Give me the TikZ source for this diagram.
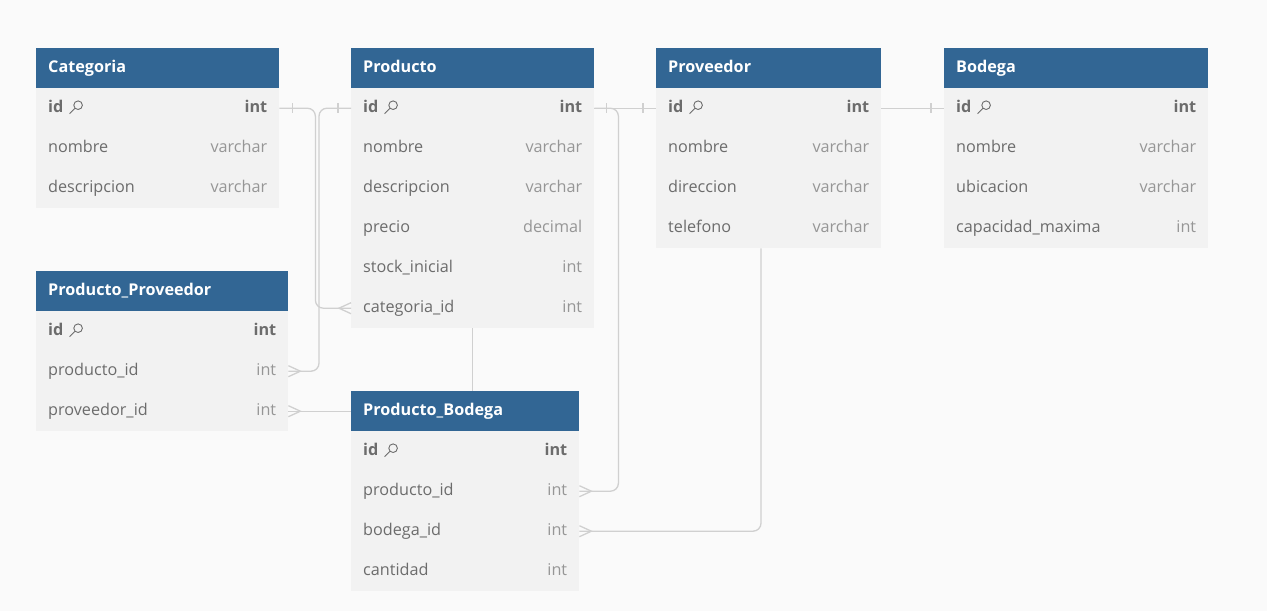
\documentclass[tikz,border=0pt]{standalone}
\usepackage{fontspec}
\setmainfont{Open Sans}
\usetikzlibrary{calc}
\definecolor{bgc}{RGB}{250,250,250}
\definecolor{hdrblue}{RGB}{50,102,148}
\definecolor{rowgray}{RGB}{242,242,242}
\definecolor{fieldc}{RGB}{108,108,108}
\definecolor{typec}{RGB}{150,150,150}
\definecolor{connc}{RGB}{208,208,208}
\tikzset{
  x=1pt, y=1pt,
  hdrbox/.style={fill=hdrblue, minimum height=40pt, inner sep=0pt, draw=none},
  rowbox/.style={fill=rowgray, minimum height=40pt, inner sep=0pt, draw=none},
  hdrtxt/.style={text=white, font=\fontsize{16.2}{19}\selectfont\bfseries, inner sep=0pt, text height=9pt, text depth=0pt, anchor=west},
  fldtxt/.style={text=fieldc, font=\fontsize{16.2}{19}\selectfont, inner sep=0pt, text height=9pt, text depth=0pt},
  typtxt/.style={text=typec, font=\fontsize{16.2}{19}\selectfont, inner sep=0pt, text height=9pt, text depth=0pt, anchor=east},
  idtxt/.style={text=fieldc, font=\fontsize{16.2}{19}\selectfont\bfseries, inner sep=0pt, text height=9pt, text depth=0pt},
  keyline/.style={draw=fieldc, line width=0.9pt},
  conn/.style={draw=connc, line width=1.3pt, rounded corners=8pt},
  crowline/.style={draw=connc, line width=1.3pt},
}
\newcommand{\keyicon}[1]{%
  \draw[keyline] ([xshift=14.5pt,yshift=3pt]#1.east) circle (4.3pt);
  \draw[keyline] ([xshift=11.3pt,yshift=-0.2pt]#1.east) -- ([xshift=6pt,yshift=-5.5pt]#1.east);
}
\newcommand{\ertab}[6]{%
  \node[hdrbox, minimum width=#4pt, anchor=north west] (#1) at (#2,-#3) {};
  \node[hdrtxt] at ([xshift=12pt]#1.west) {#5};
  \node[rowbox, minimum width=#4pt, anchor=north west] (#1-1) at (#2,{-#3-40}) {};
  \node[idtxt, anchor=west] (#1-idn) at ([xshift=12pt]#1-1.west) {id};
  \keyicon{#1-idn}
  \node[idtxt, anchor=east] at ([xshift=-12pt]#1-1.east) {int};
  \foreach \fn/\ty [count=\i from 2] in {#6} {
    \node[rowbox, minimum width=#4pt, anchor=north west] (#1-\i) at (#2,{-#3-40*\i}) {};
    \node[fldtxt, anchor=west] at ([xshift=12pt]#1-\i.west) {\fn};
    \node[typtxt] at ([xshift=-12pt]#1-\i.east) {\ty};
  }
}
\newcommand{\crowft}[2]{%
  \draw[crowline] ($(#1)+(0,5.5)$) -- ($(#1)+(#2*12,0)$) -- ($(#1)+(0,-5.5)$);
}
\newcommand{\tickmk}[2]{%
  \draw[crowline] ($(#1)+(#2,5)$) -- ($(#1)+(#2,-5)$);
}
\begin{document}
\begin{tikzpicture}
\fill[bgc] (0,0) rectangle (1267,-611);
\useasboundingbox (0,0) rectangle (1267,-611);

\ertab{cat}{36}{48}{243}{Categoria}{nombre/varchar, descripcion/varchar}
\ertab{pro}{351}{48}{243}{Producto}{nombre/varchar, descripcion/varchar, precio/decimal, stock\_inicial/int, categoria\_id/int}
\ertab{prv}{656}{48}{225}{Proveedor}{nombre/varchar, direccion/varchar, telefono/varchar}
\ertab{bod}{944}{48}{264}{Bodega}{nombre/varchar, ubicacion/varchar, capacidad\_maxima/int}
\ertab{pp}{36}{271}{252}{Producto\_Proveedor}{producto\_id/int, proveedor\_id/int}
\ertab{pb}{351}{391}{228}{Producto\_Bodega}{producto\_id/int, bodega\_id/int, cantidad/int}

% connectors
\draw[conn] (cat-1.east) -- ++(36,0) |- (pro-6.west);
\tickmk{cat-1.east}{13}
\crowft{pro-6.west}{-1}

\draw[conn] (pro-1.west) -- ++(-32,0) |- (pp-2.east);
\tickmk{pro-1.west}{-13}
\crowft{pp-2.east}{1}

\draw[conn] (pp-3.east) -- (pp-3.east -| pb.west);
\crowft{pp-3.east}{1}

\draw[conn] (pro-1.east) -- ++(24,0) |- (pb-2.east);
\tickmk{pro-1.east}{12}
\crowft{pb-2.east}{1}

\draw[conn] (pro-1.east) -- (prv-1.west);
\tickmk{prv-1.west}{-13}

\draw[conn] (prv-1.east) -- (bod-1.west);
\tickmk{bod-1.west}{-13}

\coordinate (p7) at ([xshift=105pt]prv-4.south west);
\draw[conn] (p7) |- (pb-3.east);
\crowft{pb-3.east}{1}

\draw[conn] (pro-6.south) -- (pro-6.south |- pb.north);
\end{tikzpicture}
\end{document}
